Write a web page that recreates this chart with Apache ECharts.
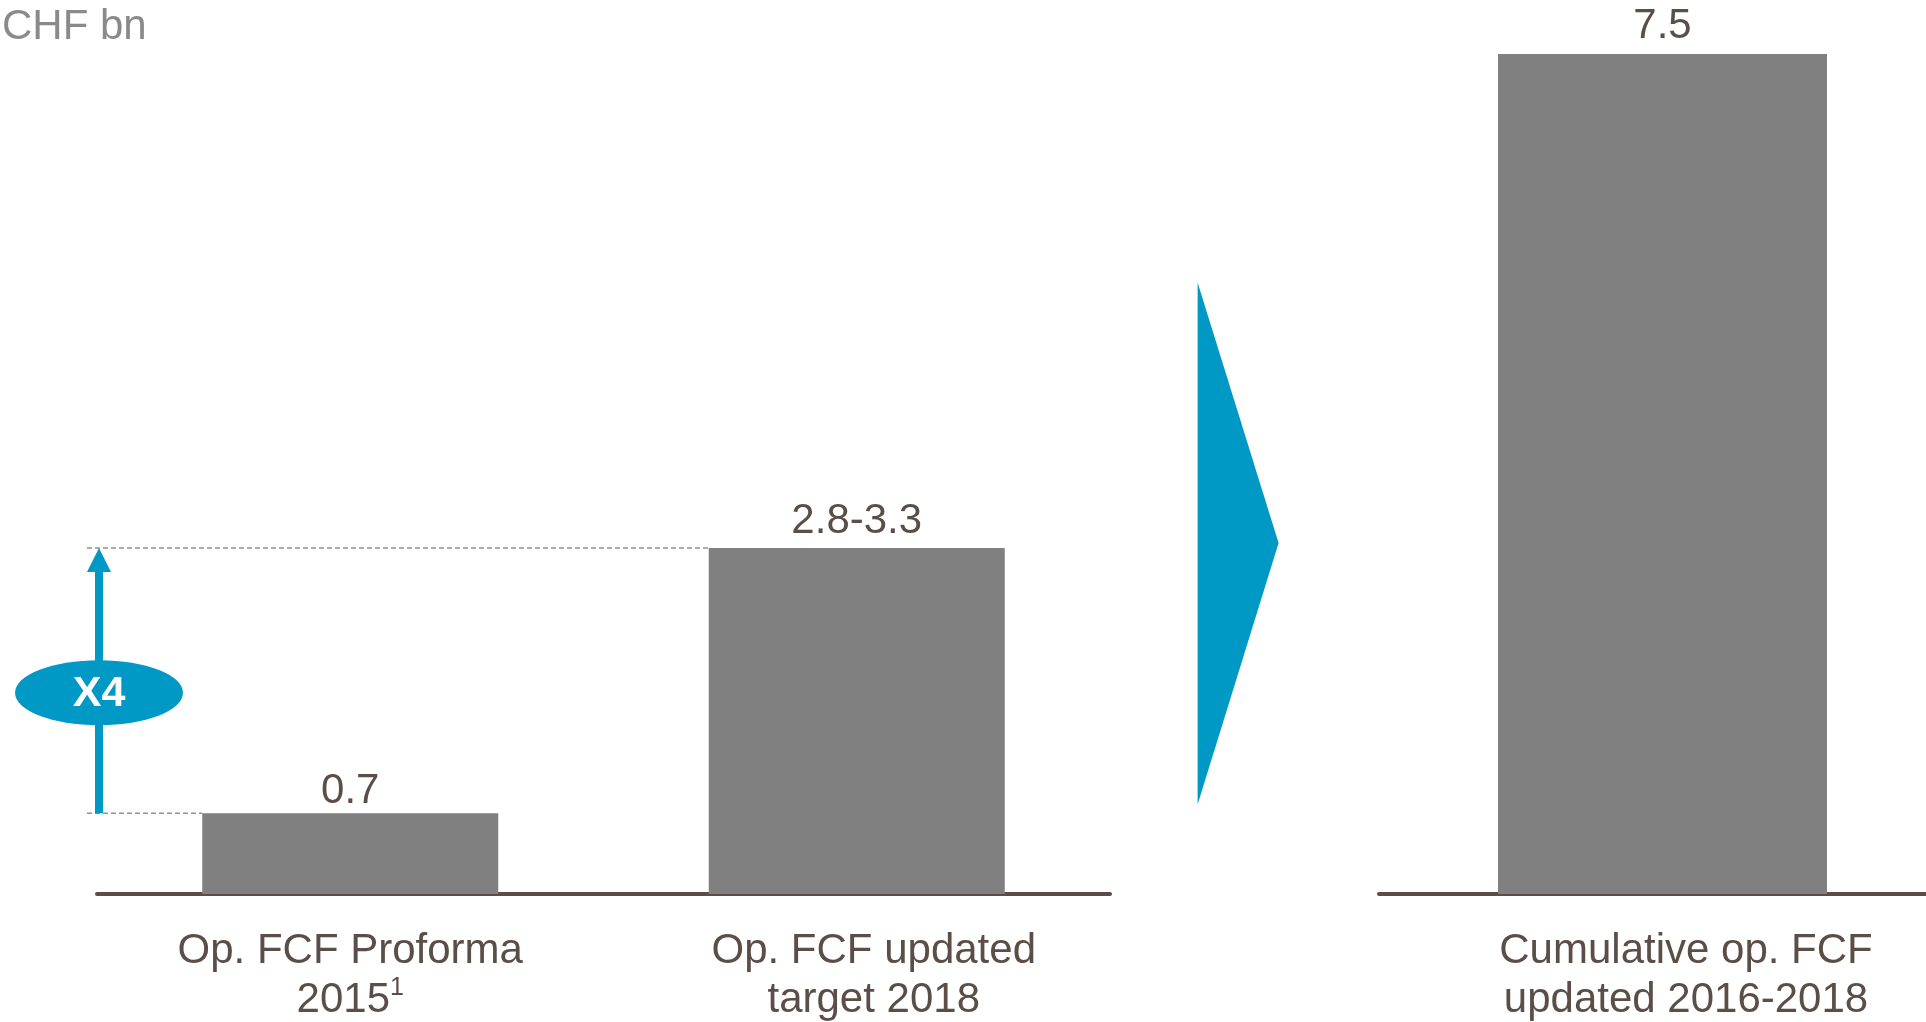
<!DOCTYPE html>
<html>
<head>
<meta charset="utf-8">
<script src="https://cdn.jsdelivr.net/npm/echarts@6/dist/echarts.min.js"></script>
<style>
html,body{margin:0;padding:0;background:#fff;overflow:hidden;width:1926px;height:1022px;}
#c{width:1926px;height:1022px;}
</style>
</head>
<body>
<div id="c"></div>
<script>
// ---- data ----
var leftCategories = ['Op. FCF Proforma\n2015{sup|1}', 'Op. FCF updated\ntarget 2018'];
var leftValues = [0.7, 3.0];
var leftLabels = ['0.7', '2.8-3.3'];
var rightCategories = ['Cumulative op. FCF\nupdated 2016-2018'];
var rightValues = [7.5];
var rightLabels = ['7.5'];
var unitLabel = 'CHF bn';
var multipleLabel = 'X4';

var FONT = '"Liberation Sans", Arial, sans-serif';
var TXT = '#5b4e46';
var BAR = '#808080';
var BLUE = '#0099c6';

var chart = echarts.init(document.getElementById('c'));

function axisLabelStyle() {
  return {
    color: TXT, fontFamily: FONT, fontSize: 42, lineHeight: 49, margin: 33,
    interval: 0,
    rich: { sup: { fontSize: 25, fontFamily: FONT, color: TXT, verticalAlign: 'top', lineHeight: 35 } }
  };
}

var option = {
  animation: false,
  backgroundColor: '#fff',
  title: {
    text: unitLabel, left: 2, top: 6, padding: 0,
    textStyle: { color: '#8a8a8a', fontFamily: FONT, fontSize: 42, fontWeight: 'normal' }
  },
  grid: [
    { left: 97, top: 548, width: 1013, height: 346, outerBoundsMode: 'none' },
    { left: 1379, top: 54, right: 0, height: 840, outerBoundsMode: 'none' }
  ],
  xAxis: [
    {
      type: 'category', gridIndex: 0,
      data: leftCategories.map(function (c, i) {
        return i === 1 ? { value: c, textStyle: { padding: [0, 0, 0, 34] } } : c;
      }),
      axisLine: { lineStyle: { color: TXT, width: 4 } },
      axisTick: { show: false },
      axisLabel: axisLabelStyle()
    },
    {
      type: 'category', gridIndex: 1,
      data: rightCategories.map(function (c) {
        return { value: c, textStyle: { padding: [0, 0, 0, 67] } };
      }),
      axisLine: { lineStyle: { color: TXT, width: 4 } },
      axisTick: { show: false },
      axisLabel: axisLabelStyle()
    }
  ],
  yAxis: [
    { type: 'value', gridIndex: 0, min: 0, max: 3.0, show: false, splitLine: { show: false } },
    { type: 'value', gridIndex: 1, min: 0, max: 7.5, show: false, splitLine: { show: false } }
  ],
  series: [
    {
      type: 'bar', xAxisIndex: 0, yAxisIndex: 0, barWidth: 296,
      data: leftValues.map(function (v, i) {
        return i === 0 ? { value: v, label: { distance: 1 } } : v;
      }),
      itemStyle: { color: BAR },
      label: {
        show: true, position: 'top', distance: 6,
        color: TXT, fontFamily: FONT, fontSize: 42,
        formatter: function (p) { return leftLabels[p.dataIndex]; }
      }
    },
    {
      // empty spacer so the cumulative bar sits right of its band centre, as in the source
      type: 'bar', xAxisIndex: 1, yAxisIndex: 1, barWidth: 20, barGap: 0,
      data: ['-'], silent: true, itemStyle: { color: 'transparent' }
    },
    {
      type: 'bar', xAxisIndex: 1, yAxisIndex: 1, barWidth: 329, barGap: 0,
      data: rightValues,
      itemStyle: { color: BAR },
      label: {
        show: true, position: 'top', distance: 7,
        color: TXT, fontFamily: FONT, fontSize: 42,
        formatter: function (p) { return rightLabels[p.dataIndex]; }
      }
    }
  ]
};
chart.setOption(option);

// ---- decorations derived from the axes' scales ----
var yTop = chart.convertToPixel({ yAxisIndex: 0 }, leftValues[1]);
var yLow = chart.convertToPixel({ yAxisIndex: 0 }, leftValues[0]);
var x0c = chart.convertToPixel({ xAxisIndex: 0 }, leftCategories[0]);
var x1c = chart.convertToPixel({ xAxisIndex: 0 }, leftCategories[1]);
var bar2Left = x1c - 148;
var bar1Left = x0c - 148;
var gridLeft = 97;
var arrowX = gridLeft + 2;
var dashStart = gridLeft - 10;
var yMid = (yTop + yLow) / 2 + 12;

chart.setOption({
  graphic: [
    { type: 'line', shape: { x1: dashStart, y1: yTop, x2: bar2Left, y2: yTop },
      style: { stroke: '#9a8f89', lineWidth: 1.5, lineDash: [5, 3] }, z: 10 },
    { type: 'line', shape: { x1: dashStart, y1: yLow, x2: bar1Left, y2: yLow },
      style: { stroke: '#9a8f89', lineWidth: 1.5, lineDash: [5, 3] }, z: 10 },
    { type: 'rect', shape: { x: arrowX - 4, y: yTop + 22, width: 8, height: yLow - yTop - 22 },
      style: { fill: BLUE }, z: 11 },
    { type: 'polygon', shape: { points: [[arrowX, yTop], [arrowX - 12, yTop + 24], [arrowX + 12, yTop + 24]] },
      style: { fill: BLUE }, z: 11 },
    { type: 'ellipse', shape: { cx: arrowX, cy: yMid, rx: 84, ry: 32.5 },
      style: { fill: BLUE }, z: 12 },
    { type: 'text', x: arrowX, y: yMid + 2, z: 13,
      style: { text: multipleLabel, fill: '#fff', font: 'bold 43px ' + FONT, align: 'center', verticalAlign: 'middle' } },
    { type: 'polygon', shape: { points: [[1197.6, 282.5], [1278.6, yTop - 5], [1197.6, 804.5]] },
      style: { fill: BLUE }, z: 10 }
  ]
});
</script>
</body>
</html>
